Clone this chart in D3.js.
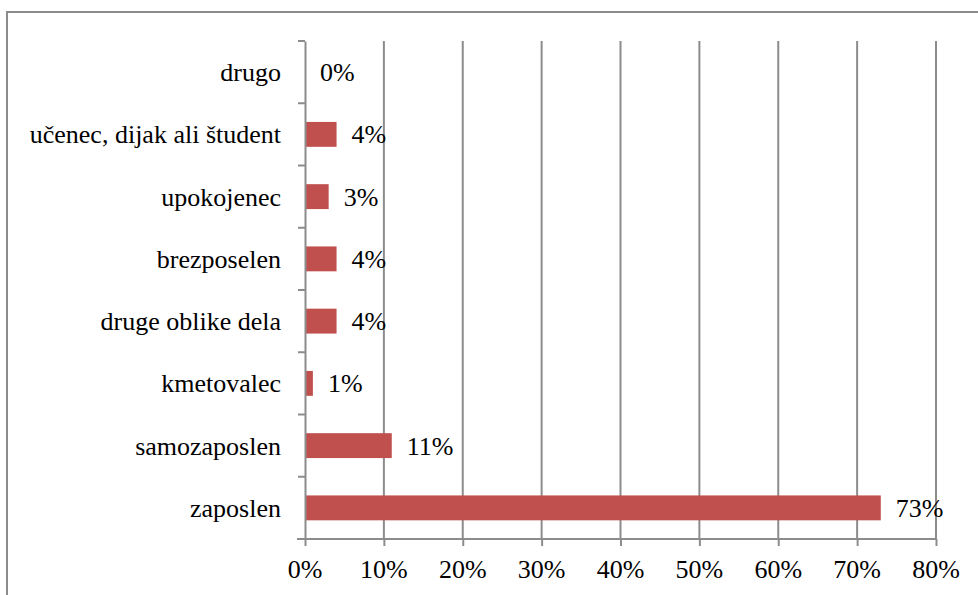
<!DOCTYPE html>
<html>
<head>
<meta charset="utf-8">
<script src="https://cdn.jsdelivr.net/npm/d3@7"></script>
<style>
  html, body { margin: 0; padding: 0; background: #fff; font-family: "Liberation Serif", "Times New Roman", Tinos, serif; }
  svg { display: block; font-family: "Liberation Serif", "Times New Roman", Tinos, serif; }
</style>
</head>
<body>
<svg id="chart" width="978" height="595" font-family="Liberation Serif, Times New Roman, serif"></svg>
<script>
const categories = ["drugo", "učenec, dijak ali študent", "upokojenec", "brezposelen", "druge oblike dela", "kmetovalec", "samozaposlen", "zaposlen"];
const values = [0, 4, 3, 4, 4, 1, 11, 73];
const tickValues = [0, 10, 20, 30, 40, 50, 60, 70, 80];

const svg = d3.select("#chart");
const W = 978, H = 595;
const margin = { left: 305, right: W - 936, top: 41, bottom: H - 539 };
const FS = 26;
const grid = "#8c8c8c";

function addText(x0, y0, str, anchor) {
  svg.append("text")
    .attr("x", x0).attr("y", y0)
    .style("font-family", '"Liberation Serif", "Times New Roman", Tinos, serif')
    .attr("font-size", FS)
    .attr("text-anchor", anchor)
    .text(str);
}

// outer frame
svg.append("rect")
  .attr("x", 7).attr("y", 12)
  .attr("width", W + 10).attr("height", H + 10)
  .attr("fill", "none").attr("stroke", grid).attr("stroke-width", 2);

const x = d3.scaleLinear().domain([0, 80]).range([margin.left, W - margin.right]);
const y = d3.scaleBand().domain(categories).range([margin.top, H - margin.bottom]).paddingInner(0.6).paddingOuter(0.3);
const yOuter = d3.scaleBand().domain(categories).range([margin.top, H - margin.bottom]);

// vertical gridlines
svg.append("g").selectAll("line").data(tickValues.slice(1)).join("line")
  .attr("x1", d => x(d)).attr("x2", d => x(d))
  .attr("y1", margin.top).attr("y2", H - margin.bottom)
  .attr("stroke", grid).attr("stroke-width", 2);

// bars
svg.append("g").selectAll("rect").data(values).join("rect")
  .attr("x", x(0))
  .attr("y", (d, i) => y(categories[i]))
  .attr("width", d => x(d) - x(0))
  .attr("height", y.bandwidth())
  .attr("fill", "#c0504d");

// y axis line and category boundary ticks
const gy = svg.append("g").attr("transform", `translate(${margin.left},0)`)
  .call(d3.axisLeft(yOuter).tickSize(0).tickFormat(""));
gy.selectAll("text").remove();
gy.attr("font-family", null);
gy.select(".domain").attr("stroke", grid).attr("stroke-width", 2);
const bounds = categories.map(c => yOuter(c)).concat([H - margin.bottom]);
svg.append("g").selectAll("line").data(bounds).join("line")
  .attr("x1", margin.left - 7).attr("x2", margin.left)
  .attr("y1", d => d).attr("y2", d => d)
  .attr("stroke", grid).attr("stroke-width", 2);

// x axis line and ticks
const gx = svg.append("g").attr("transform", `translate(0,${H - margin.bottom})`)
  .call(d3.axisBottom(x).tickValues(tickValues).tickFormat("").tickSize(7).tickSizeOuter(0));
gx.selectAll("text").remove();
gx.attr("font-family", null);
gx.select(".domain").attr("stroke", grid).attr("stroke-width", 2)
  .attr("d", `M${margin.left - 8},0H${W - margin.right}`);
gx.selectAll(".tick line").attr("stroke", grid).attr("stroke-width", 2);

// category labels
categories.forEach(c => addText(margin.left - 24, yOuter(c) + yOuter.bandwidth() / 2 + 9, c, "end"));
// data labels
values.forEach((v, i) => addText(x(v) + 15, y(categories[i]) + y.bandwidth() / 2 + 9, v + "%", "start"));
// tick labels
tickValues.forEach(t => addText(x(t), H - margin.bottom + 39, t + "%", "middle"));
</script>
</body>
</html>
